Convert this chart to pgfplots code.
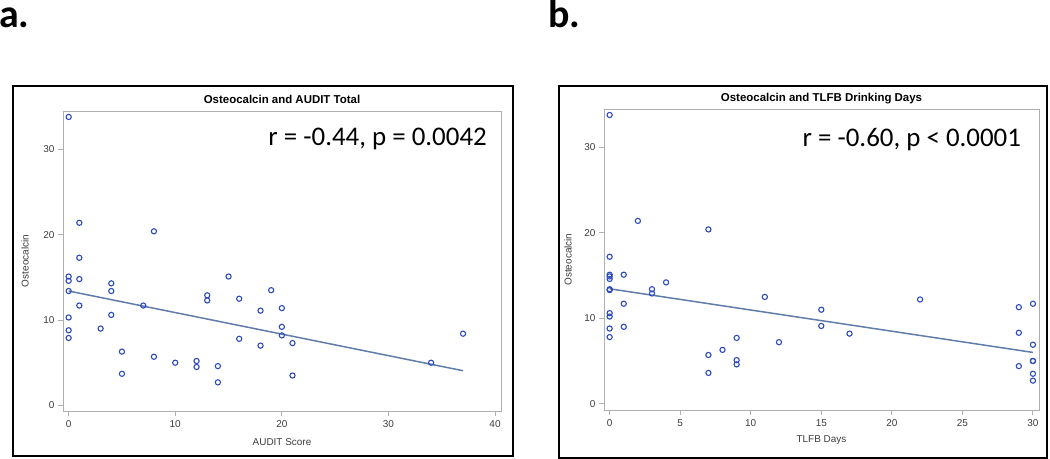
\documentclass[border=0pt]{standalone}
\usepackage{fontspec}
\setmainfont{Liberation Sans}
\newfontfamily\calib{Carlito}
\usepackage{pgfplots}
\pgfplotsset{compat=1.18}

\definecolor{markblue}{RGB}{45,75,190}
\definecolor{fitline}{RGB}{95,125,170}
\definecolor{axgray}{RGB}{175,175,175}
\definecolor{txtgray}{RGB}{60,60,60}

\pgfplotsset{
  sasstyle/.style={
    scale only axis,
    anchor=south west,
    axis line style={axgray, line width=0.9bp},
    tick style={axgray, line width=0.9bp},
    tick align=outside,
    major tick length=5bp,
    xtick pos=bottom, ytick pos=left,
    ytick={0,10,20,30},
    /pgf/number format/assume math mode=true,
    tick label style={font=\fontsize{10}{12}\selectfont, text=txtgray},
    xticklabel style={yshift=-1bp},
    label style={font=\fontsize{10}{12}\selectfont, text=txtgray},
    title style={font=\bfseries\fontsize{11.5}{13}\selectfont, anchor=base, at={(axis description cs:0.5,1)}, yshift=1.5bp},
    clip=false,
  },
  pts/.style={only marks, mark=o, mark size=2.6bp, markblue, mark options={line width=1.1bp}},
  fit/.style={no marks, fitline, line width=1.5bp},
}

\begin{document}
\begin{tikzpicture}
\path[use as bounding box] (0,0) rectangle (1050bp,459bp);

% panel labels
\node[anchor=base west, inner sep=0pt] at (-1bp,431bp) {\calib\bfseries\fontsize{40}{44}\selectfont a.};
\node[anchor=base west, inner sep=0pt] at (548bp,431bp) {\calib\bfseries\fontsize{40}{44}\selectfont b.};

% frames
\draw[line width=2bp] (13bp,3bp) rectangle (513bp,373bp);
\draw[line width=2bp] (559bp,1bp) rectangle (1047bp,373bp);

% panel a
\begin{axis}[sasstyle,
  at={(63bp,48bp)}, width=438bp, height=300bp,
  xmin=-0.53, xmax=40.56, ymin=-0.66, ymax=34.5,
  xtick={0,10,20,30,40},
  title={Osteocalcin and AUDIT Total},
  xlabel={AUDIT Score}, ylabel={Osteocalcin},
  xlabel style={at={(axis description cs:0.5,0)}, anchor=center, yshift=-31bp},
  ylabel style={at={(axis description cs:0,0.5)}, anchor=center, yshift=38bp},
]
\addplot[pts] coordinates {
 (0,33.8) (0,15.1) (0,14.6) (0,13.4) (0,10.3) (0,8.8) (0,7.9)
 (1,21.4) (1,17.3) (1,14.8) (1,11.7)
 (3,9.0) (4,14.3) (4,13.4) (4,10.6) (5,6.3) (5,3.7)
 (7,11.7) (8,20.4) (8,5.7) (10,5.0) (12,5.2) (12,4.5)
 (13,12.9) (13,12.3) (14,4.6) (14,2.7) (15,15.1)
 (16,12.5) (16,7.8) (18,11.1) (18,7.0) (19,13.5)
 (20,11.4) (20,9.2) (20,8.2) (21,7.3) (21,3.5)
 (34,5.0) (37,8.4)
};
\addplot[fit] coordinates {(0,13.4) (37,4.06)};
\node[anchor=east, inner sep=0pt] at (axis description cs:0.968,0.907)
  {\calib\fontsize{27}{30}\selectfont r = -0.44, p = 0.0042};
\end{axis}

% panel b
\begin{axis}[sasstyle,
  at={(604bp,49bp)}, width=435bp, height=301bp,
  xmin=-0.40, xmax=30.43, ymin=-0.74, ymax=34.5,
  xtick={0,5,10,15,20,25,30},
  title={Osteocalcin and TLFB Drinking Days},
  xlabel={TLFB Days}, ylabel={Osteocalcin},
  xlabel style={at={(axis description cs:0.5,0)}, anchor=center, yshift=-30bp},
  ylabel style={at={(axis description cs:0,0.5)}, anchor=center, yshift=36bp},
]
\addplot[pts] coordinates {
 (0,33.8) (0,17.2) (0,15.1) (0,14.9) (0,14.6) (0,13.4) (0,13.3)
 (0,10.6) (0,10.2) (0,8.8) (0,7.8)
 (1,15.1) (1,11.7) (1,9.0) (2,21.4) (3,13.4) (3,12.9) (4,14.2)
 (7,20.4) (7,5.7) (7,3.6) (8,6.3) (9,7.7) (9,5.1) (9,4.6)
 (11,12.5) (12,7.2) (15,11.0) (15,9.1) (17,8.2) (22,12.2)
 (29,11.3) (29,8.3) (29,4.4)
 (30,11.7) (30,6.9) (30,5.0) (30,5.0) (30,3.5) (30,2.7)
};
\addplot[fit] coordinates {(0,13.45) (30,6.0)};
\node[anchor=east, inner sep=0pt] at (axis description cs:0.959,0.900)
  {\calib\fontsize{27}{30}\selectfont r = -0.60, p < 0.0001};
\end{axis}
\end{tikzpicture}
\end{document}
